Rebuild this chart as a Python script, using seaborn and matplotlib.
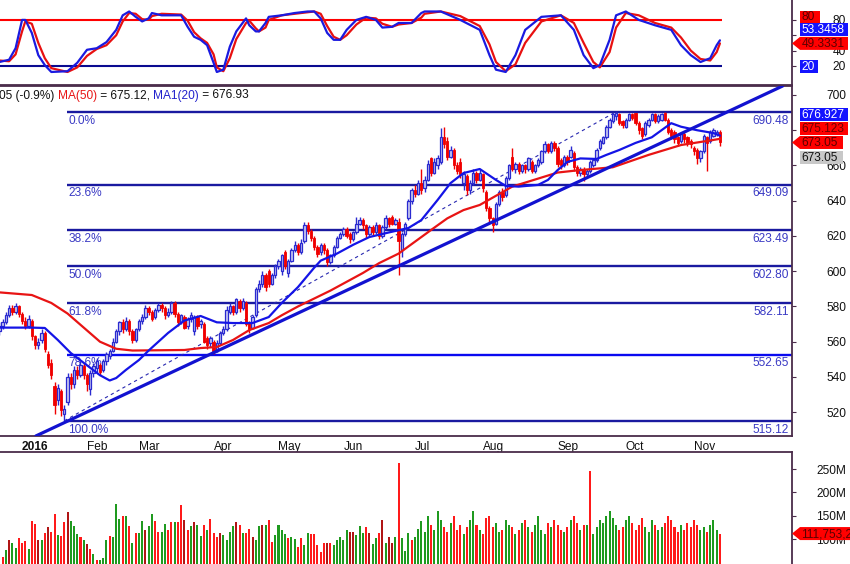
import matplotlib
matplotlib.use("Agg")
import matplotlib.pyplot as plt
import numpy as np
import pandas as pd
import seaborn as sns
from matplotlib.patches import Polygon

# ---------------- data ----------------
opens = [566,569,571,575,579,577,580,576,572,569,
         572,563,558,561,565,553,548,535,527,532,
         519,526,540,536,544,541,546,541,533,542,
         545,547,544,549,552,555,560,566,571,567,
         572,566,561,567,572,574,579,577,574,578,
         581,579,575,577,582,576,571,574,569,573,
         566,574,570,570,562,559,560,555,559,565,
         567,577,580,577,583,579,582,571,568,575,
         590,593,598,600,593,598,603,600,611,599,
         606,612,615,611,617,626,623,619,614,611,
         615,612,605,609,614,619,621,624,621,618,
         622,627,629,626,621,625,622,626,620,625,
         630,631,627,628,612,621,630,640,646,644,
         650,647,652,664,656,660,662,676,674,665,
         669,660,662,650,654,646,650,656,652,655,
         645,636,630,627,638,645,643,653,665,658,
         661,657,660,658,662,657,660,662,668,672,
         668,673,670,663,660,665,665,667,659,656,
         658,655,657,660,663,670,673,676,682,685,
         688,689,685,682,686,689,690,684,681,678,
         683,686,689,685,686,690,686,680,679,676,
         674,678,676,674,670,669,664,668,676,674,
         677,678,679]
closes = [569,571,575,579,577,580,576,572,569,573,
          563,558,560,565,556,547,541,524,534,521,
          522,540,536,544,541,547,541,536,542,546,
          549,543,549,553,555,560,566,571,567,572,
          566,561,567,572,574,579,577,573,578,581,
          579,575,577,582,576,571,575,568,573,575,
          574,569,572,560,558,562,555,559,565,567,
          578,580,577,584,579,583,570,567,574,590,
          593,598,591,593,598,603,606,609,603,606,
          612,615,611,616,626,623,619,614,610,615,
          612,605,609,614,619,621,624,620,618,622,
          627,629,626,621,625,622,626,620,625,630,
          627,627,629,617,621,627,640,646,644,650,
          646,652,661,656,662,664,676,672,665,669,
          660,657,655,655,646,650,656,652,656,647,
          636,630,626,638,645,642,653,660,658,661,
          657,660,658,664,657,660,663,668,672,668,
          673,670,661,660,665,662,669,659,656,658,
          655,657,662,663,669,674,676,682,686,689,
          690,684,683,686,689,687,684,680,677,684,
          686,689,685,688,689,686,679,677,675,673,
          678,675,673,672,668,664,668,677,673,679,
          680,679,673.05]
highs = [571,573,577,581,581,582,581,577,574,575,
         573,564,562,567,566,555,550,537,536,533,
         524,542,542,546,546,549,548,542,544,548,
         551,548,550,554,556,562,567,572,573,574,
         573,567,568,573,576,581,580,578,579,582,
         582,580,579,583,583,577,576,575,574,577,
         575,575,573,571,563,563,561,561,566,569,
         580,582,581,585,584,585,583,572,575,591,
         595,600,599,601,599,604,607,610,612,607,
         613,617,616,618,628,628,624,620,615,616,
         616,613,610,615,620,622,625,625,622,623,
         631,631,630,627,626,626,628,627,626,632,
         631,632,630,630,622,628,641,647,649,652,
         658,654,663,665,664,666,681,682,676,671,
         670,662,664,657,655,652,658,657,658,656,
         646,637,631,639,646,647,654,661,670,662,
         662,661,661,665,663,661,664,669,674,673,
         674,674,671,664,666,666,671,668,660,659,
         659,658,663,664,670,675,677,683,687,690,
         690.48,690,686,687,690,690,690,685,682,685,
         687,690,690,689,690,690.3,687,681,680,677,
         679,679,677,675,671,670,669,678,677,680,
         681,680,680]
lows = [564,567,570,574,575,576,574,570,567,568,
        561,556,556,559,554,545,539,519,524,518,
        515.12,524,533,534,539,540,539,532,530,540,
        543,541,543,547,550,554,559,564,565,566,
        564,559,560,566,570,573,575,572,573,577,
        577,573,574,576,574,569,570,567,567,571,
        564,567,568,559,556,557,553,554,558,564,
        566,576,575,576,577,578,569,565,567,574,
        588,591,589,591,592,596,601,598,601,597,
        605,611,609,610,616,621,617,612,608,609,
        610,603,604,608,613,618,620,619,616,617,
        621,626,624,619,620,620,621,618,619,624,
        625,626,626,598,608,620,629,638,642,643,
        644,645,651,654,655,658,661,670,663,664,
        658,655,653,646,643,644,649,650,651,645,
        634,628,622,626,637,640,642,652,657,656,
        655,656,656,657,656,656,659,661,667,667,
        667,668,659,658,659,660,664,657,654,654,
        651,654,656,659,662,669,672,675,681,684,
        686,683,681,681,685,686,683,678,675,677,
        682,685,684,684,685,685,678,675,673,671,
        673,673,671,670,666,661,662,667,657,673,
        676,677,671]
volumes_m = [70,62,77,99,91,80,102,92,96,79,
             139,132,97,99,114,125,116,154,109,107,
             137,157,139,127,111,105,97,89,79,69,
             55,55,59,99,107,104,174,144,149,149,
             127,92,114,114,139,119,128,154,139,116,
             116,132,119,137,137,137,173,141,119,128,
             137,130,107,130,119,143,114,105,112,109,
             98,116,128,137,130,112,112,122,105,97,
             128,130,130,141,93,109,130,119,111,103,
             105,101,82,103,87,114,111,111,87,73,
             92,92,91,87,99,105,98,119,116,116,
             109,128,114,125,114,89,102,114,141,91,
             105,91,104,262,102,75,114,97,104,122,
             139,116,150,130,120,160,140,125,115,135,
             150,120,130,110,125,140,160,130,120,110,
             145,150,125,135,115,120,140,130,125,110,
             120,135,140,125,115,130,150,120,110,135,
             125,140,130,120,115,125,140,150,135,120,
             130,130,245,110,125,140,135,150,160,145,
             130,120,125,140,150,135,120,130,145,125,
             115,140,130,120,125,135,150,140,125,115,
             130,120,135,125,140,130,120,125,115,130,
             140,120,111.75]
volume_colors = ("rrgRggrrrg" "rrRgrRrrgr" "rRgggrgRrg" "rgggrgggrg" "rgrggRggrr"
                 "ggrrgrrRrg" "RggrgrrrRg" "gggRrgrrRg" "gRgrrggggr" "ggrrggrrrr"
                 "rRrgggggRR" "gggrRggrRg" "RRgrgggrgg" "gg"
                 "grgggrrgrr" "rgrggrgrrr" "rggrggrgrg" "rgrggggrgr" "rrgrgrrgrg"
                 "rggggggggr" "rggrrrrggg" "rggrrrrrgr" "rrrrggrggg" "r")

ma50_idx = [0, 10, 16, 21, 26, 31, 36, 41, 57, 62, 67, 72, 77, 83, 87, 92, 102, 112,
            117, 123, 133, 138, 143, 148, 158, 172, 179, 189, 200, 210, 220, 222]
ma50_val = [588, 586.5, 582, 576, 568, 560, 556, 555, 555.3, 556.4, 557, 561, 566.6,
            570.6, 575, 580, 589, 599, 604.6, 610, 623.4, 630, 634.7, 637.6, 648, 656,
            657.4, 659, 666, 671.6, 674.5, 675.12]
ma20_idx = [0, 10, 14, 18, 22, 26, 31, 34, 36, 39, 43, 46, 52, 57, 62, 67, 72, 78, 83,
            87, 92, 97, 99, 104, 109, 114, 120, 126, 130, 135, 139, 143, 148, 153, 156,
            160, 166, 169, 172, 175, 179, 184, 187, 191, 196, 201, 207, 210, 215, 220, 222]
ma20_val = [568, 568, 567.8, 561, 553.6, 548, 541, 538, 539.4, 544, 549.6, 555, 565,
            572, 574.6, 571, 570.6, 570.6, 574, 582, 591, 602, 606, 610, 615, 619.4,
            622, 624.5, 629, 640.4, 650, 655.7, 658, 651.8, 648.4, 648, 649, 651.8,
            657.4, 662, 664, 663.7, 666, 668.8, 672.8, 676, 684, 682, 680, 678.4, 676.93]

stoch_idx = [0, 3, 5, 7, 8, 10, 12, 14, 16, 21, 24, 27, 30, 33, 36, 38, 40, 42, 44, 46,
             47, 50, 56, 58, 60, 62, 64, 66, 67, 69, 71, 73, 76, 77, 79, 80, 82, 83, 87,
             91, 95, 97, 99, 101, 103, 105, 107, 110, 113, 116, 118, 121, 123, 127, 130,
             131, 136, 142, 148, 151, 153, 156, 159, 162, 167, 173, 177, 180, 183, 185,
             188, 190, 193, 197, 202, 207, 210, 213, 216, 219, 221, 222]
stoch_k = [25, 28, 43, 80, 80, 63, 34, 21, 12, 13, 24, 41, 43, 51, 67, 86, 91, 84, 78, 82,
           89, 86, 86, 71, 58, 54, 47, 24, 12, 15, 45, 65, 82, 73, 65, 65, 76, 84, 86,
           89, 91, 91, 82, 63, 54, 54, 67, 80, 84, 80, 70, 71, 76, 76, 89,
           91, 91, 80, 67, 34, 15, 12, 34, 67, 84, 86, 67, 34, 17, 21,
           54, 86, 91, 80, 73, 67, 47, 34, 25, 30, 47, 53.3458]
stoch_d = [27, 26, 35, 65, 78, 75, 50, 30, 17, 12, 18, 33, 42, 47, 60, 78, 89, 88, 81, 80,
           85, 88, 87, 79, 64, 56, 50, 35, 18, 13, 30, 55, 76, 79, 69, 65, 70, 80, 86,
           88, 90, 91, 88, 72, 58, 54, 60, 74, 83, 82, 75, 71, 74, 76, 83,
           88, 91, 85, 72, 48, 25, 13, 22, 50, 78, 86, 76, 50, 25, 18,
           38, 70, 89, 86, 76, 70, 57, 40, 29, 27, 38, 49.3331]

month_idx = [7, 27, 43, 66, 86, 106, 128, 149, 172, 193, 214]
month_lbl = ["2016", "Feb", "Mar", "Apr", "May", "Jun", "Jul", "Aug", "Sep", "Oct", "Nov"]

price_ticks = [520, 540, 560, 580, 600, 620, 640, 660, 680, 700]
price_tick_lbl = ["520", "540", "560", "580", "600", "620", "640", "660", "", "700"]
stoch_ticks = [20, 40, 60, 80]
stoch_tick_lbl = ["20", "40", "", "80"]
vol_ticks = [100, 150, 200, 250]
vol_tick_lbl = ["100M", "150M", "200M", "250M"]

fib_pct = ["0.0%", "23.6%", "38.2%", "50.0%", "61.8%", "78.6%", "100.0%"]
fib_val = [690.48, 649.09, 623.49, 602.80, 582.11, 552.65, 515.12]
fib_start = 20.8
trend_pts = [(20.5, 514.5), (182.0, 653.9)]
swing_pts = [(20.0, 515.12), (190.0, 690.48)]

# ---------------- styling ----------------
sns.set_theme(style="white")
plt.rcParams['font.family'] = ['Liberation Sans', 'DejaVu Sans']

W, H = 850, 564
fig = plt.figure(figsize=(8.5, 5.64), dpi=100, facecolor="white")

def fx(px):
    return px / W

def fy(py):
    return 1 - py / H

XL = (0.2, 244.2)
SP = "#4a2c4a"
FS = 8.6

ax_st = fig.add_axes([0, fy(85), fx(792), fy(0) - fy(85)])
ax_m = fig.add_axes([0, fy(436), fx(792), fy(86) - fy(436)])
ax_v = fig.add_axes([0, 0, fx(792), fy(452)])

for ax in (ax_st, ax_m, ax_v):
    ax.set_facecolor("white")
    ax.set_xlim(*XL)
    ax.spines['left'].set_visible(False)
    for s in ('right', 'top', 'bottom'):
        ax.spines[s].set_color(SP)
        ax.spines[s].set_linewidth(1.3)
    ax.yaxis.tick_right()
    ax.tick_params(axis='y', direction='out', length=3, width=0.8, color=SP,
                   labelsize=FS, pad=36, labelcolor="#111111")
ax_st.spines['top'].set_visible(False)
ax_v.spines['bottom'].set_visible(False)

days = np.arange(len(closes))
o = np.array(opens, float); c = np.array(closes, float)
h = np.array(highs, float); l = np.array(lows, float)
up = c >= o

# ---------------- stochastic ----------------
ax_st.set_ylim(-5, 106)
ax_st.hlines(80, 0, 222.6, color="#ff0000", lw=1.5, zorder=2)
ax_st.hlines(20, 0, 222.6, color="#0a0a90", lw=1.5, zorder=2)
sns.lineplot(x=stoch_idx, y=stoch_d, ax=ax_st, color="#e81010", lw=1.6, sort=False,
             estimator=None, zorder=3)
sns.lineplot(x=stoch_idx, y=stoch_k, ax=ax_st, color="#1a1ae0", lw=1.6, sort=False,
             estimator=None, zorder=4)
ax_st.set_yticks(stoch_ticks)
ax_st.set_yticklabels(stoch_tick_lbl)
ax_st.set_xticks([])

# ---------------- main price panel ----------------
ax_m.set_ylim(506.5, 705.1)
for pct, val in zip(fib_pct, fib_val):
    col = "#0a0af0" if pct == "78.6%" else "#1a1aa0"
    ax_m.hlines(val, fib_start, XL[1], color=col, lw=1.7, zorder=2)
    ax_m.annotate(pct, xy=(fib_start, val), xytext=(1, -2), textcoords='offset points',
                  ha='left', va='top', color="#3a3ac4", fontsize=FS, zorder=2)
    ax_m.annotate(f"{val:.2f}", xy=(1, val), xycoords=('axes fraction', 'data'),
                  xytext=(-2, -2), textcoords='offset points', ha='right', va='top',
                  color="#3a3ac4", fontsize=FS, zorder=2)

ax_m.plot([p[0] for p in swing_pts], [p[1] for p in swing_pts], color="#2828b0", lw=0.8,
          dashes=(3, 3), zorder=2)
ax_m.axline(trend_pts[0], trend_pts[1], color="#1212d0", lw=2.3, zorder=6)

UPC, DNC = "#2a2ad0", "#f00000"
ax_m.vlines(days[up], l[up], h[up], color=UPC, lw=1.0, zorder=3)
ax_m.vlines(days[~up], l[~up], h[~up], color=DNC, lw=1.0, zorder=3)
blo = np.minimum(o, c)
bh = np.maximum(np.abs(c - o), 0.6)
ax_m.bar(days[up], bh[up], bottom=blo[up], width=0.72, facecolor="#c8c8f0",
         edgecolor=UPC, lw=0.9, zorder=4)
ax_m.bar(days[~up], bh[~up], bottom=blo[~up], width=0.72, facecolor=DNC,
         edgecolor=DNC, lw=0.6, zorder=4)

sns.lineplot(x=ma50_idx, y=ma50_val, ax=ax_m, color="#e81414", lw=1.6, sort=False,
             estimator=None, zorder=5)
sns.lineplot(x=ma20_idx, y=ma20_val, ax=ax_m, color="#1414e6", lw=1.6, sort=False,
             estimator=None, zorder=5)

ax_m.set_yticks(price_ticks)
ax_m.set_yticklabels(price_tick_lbl)
ax_m.set_xticks(month_idx)
ax_m.set_xticklabels(month_lbl)
ax_m.tick_params(axis='x', direction='out', length=3, width=0.8, color=SP, pad=0.5,
                 labelsize=FS, labelcolor="#111111")
for lab in ax_m.get_xticklabels():
    lab.set_horizontalalignment('left')
    if lab.get_text() == "2016":
        lab.set_fontweight('bold')

# ---------------- volume ----------------
cmap = {'g': '#1f9a1f', 'G': '#0c6a0c', 'r': '#ff1a1a', 'R': '#b01515'}
vcols = [cmap[ch] for ch in volume_colors]
ax_v.bar(days, volumes_m, width=0.62, color=vcols, lw=0, zorder=3)
ax_v.set_ylim(46.6, 286.4)
ax_v.set_yticks(vol_ticks)
ax_v.set_yticklabels(vol_tick_lbl)
ax_v.set_xticks([])

for ax in (ax_st, ax_m, ax_v):
    ax.set_xlabel(""); ax.set_ylabel("")
    for lab in ax.get_yticklabels():
        lab.set_horizontalalignment('right')

# ---------------- header text ----------------
renderer = fig.canvas.get_renderer()
parts = [("05 (-0.9%) ", "#111111"), ("MA(50)", "#e81414"), (" = 675.12, ", "#111111"),
         ("MA1(20)", "#2222cc"), (" = 676.93", "#111111")]
xp = -1.0
for txt, col in parts:
    t = fig.text(fx(xp), fy(95.5), txt, color=col, fontsize=FS, ha='left', va='center')
    xp += t.get_window_extent(renderer).width

# ---------------- value boxes on the right ----------------
def data_py(ax, val):
    y0, y1 = ax.get_ylim()
    b = ax.get_position()
    frac = b.y0 + (val - y0) / (y1 - y0) * b.height
    return (1 - frac) * H

def vbox(yc, text, fc, tc, x0=800, x1=848, hh=6.5, arrow=False):
    if arrow:
        pts = [(792, yc), (800, yc - hh), (x1, yc - hh), (x1, yc + hh), (800, yc + hh)]
    else:
        pts = [(x0, yc - hh), (x1, yc - hh), (x1, yc + hh), (x0, yc + hh)]
    poly = Polygon([(fx(px), fy(py)) for px, py in pts], closed=True,
                   transform=fig.transFigure, facecolor=fc, edgecolor='none', zorder=10)
    fig.add_artist(poly)
    fig.text(fx(x0 + 1.5), fy(yc + 0.5), text, color=tc, fontsize=FS, ha='left',
             va='center', zorder=11)

vbox(114, "676.927", "#1414ff", "white")
vbox(128.5, "675.123", "#ff0000", "#6a0000")
vbox(data_py(ax_m, 673.05), "673.05", "#ff0000", "#5a0000", x1=843, arrow=True)
vbox(157.5, "673.05", "#c8c8c8", "#111111", x1=843)

vbox(17, "80", "#ff0000", "#5a0000", x1=820)
vbox(29.5, "53.3458", "#1414ff", "white")
vbox(data_py(ax_st, 49.3331), "49.3331", "#ff0000", "#5a0000", arrow=True)
vbox(66.5, "20", "#1414ff", "white", x1=818)

vbox(data_py(ax_v, 111.75), "111,753,200", "#ff0000", "#5a0000", x1=880, arrow=True)

fig.savefig("out.png", dpi=100, facecolor="white")
